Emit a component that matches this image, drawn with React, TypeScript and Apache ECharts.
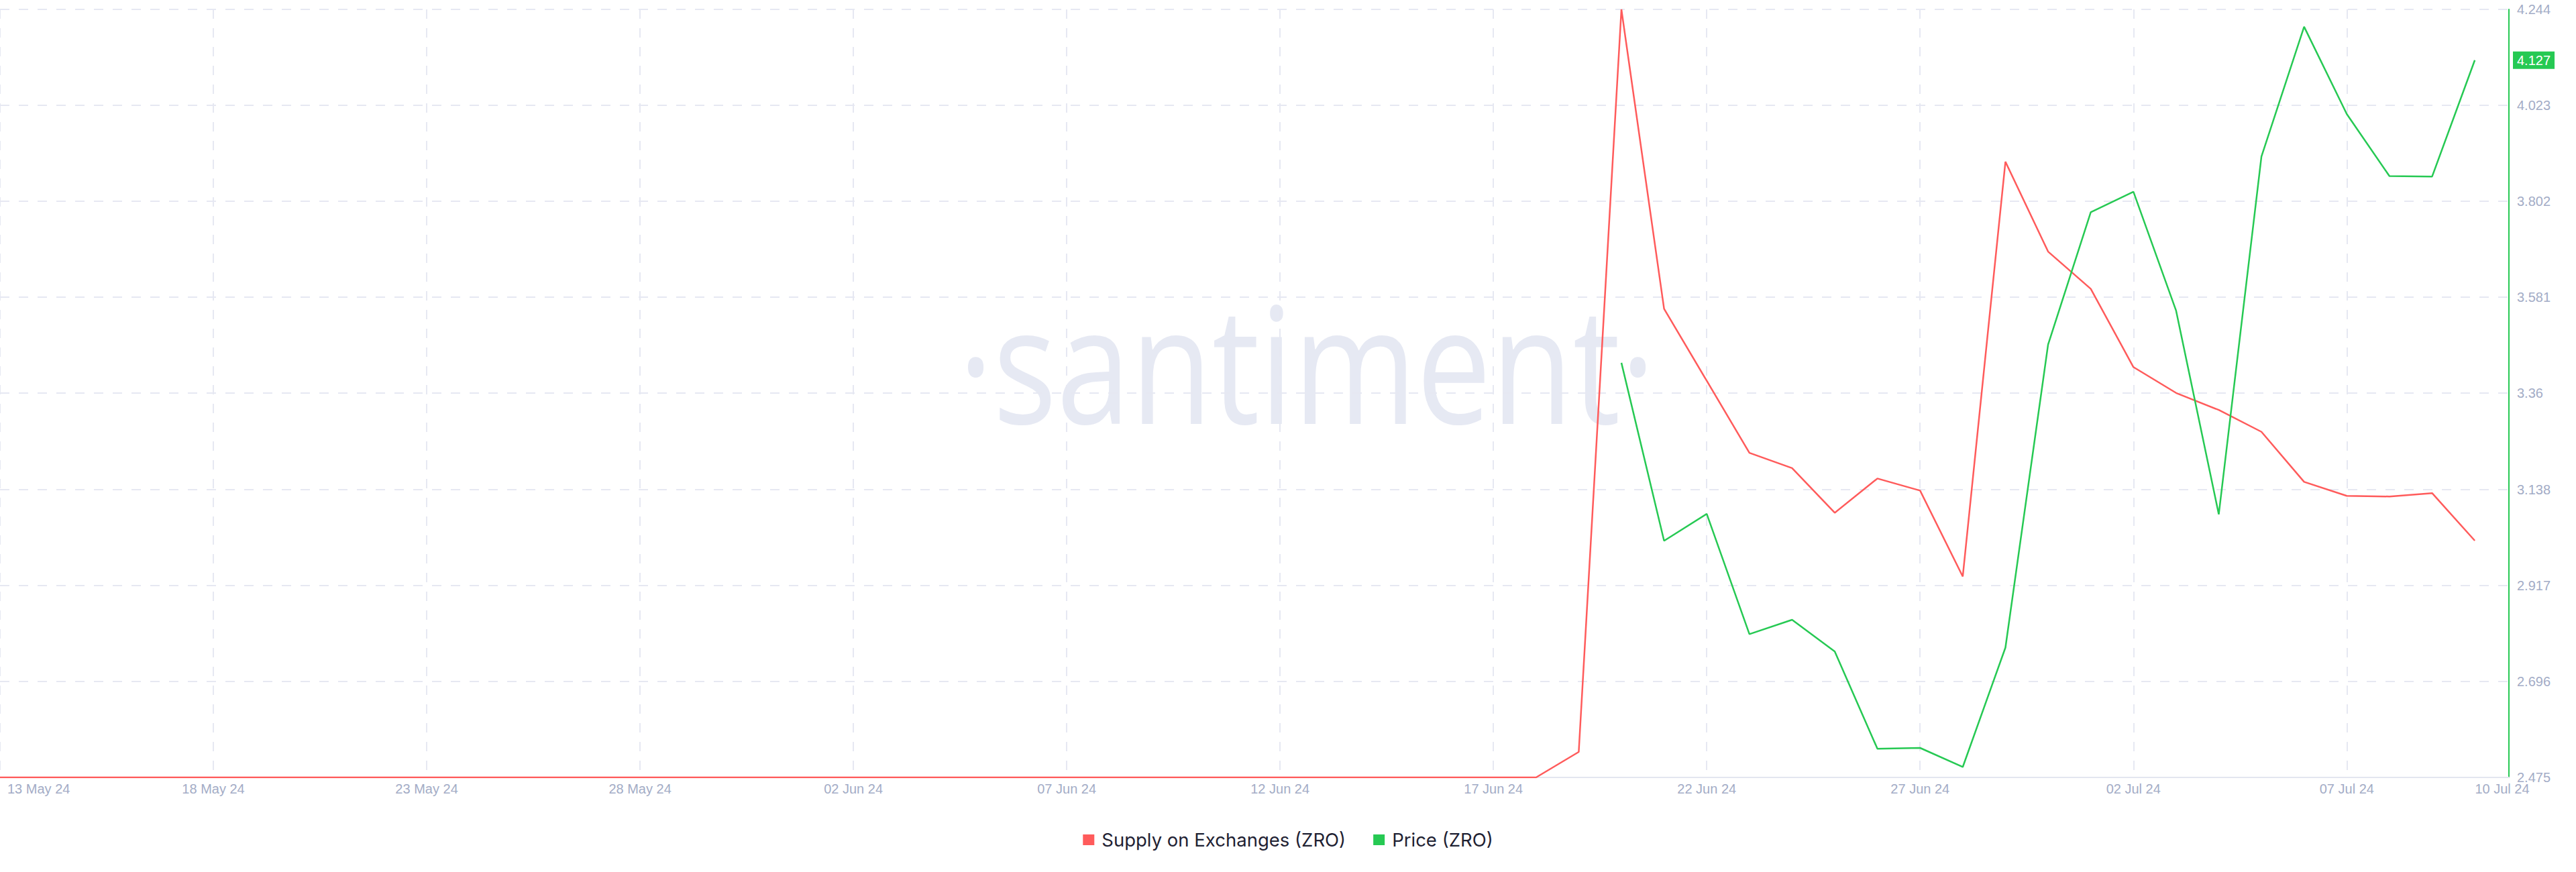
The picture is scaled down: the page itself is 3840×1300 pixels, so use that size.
import React, { useEffect, useRef } from "react";
import * as echarts from "echarts";

// ---------- data ----------
const MONTHS = ["Jan", "Feb", "Mar", "Apr", "May", "Jun", "Jul", "Aug", "Sep", "Oct", "Nov", "Dec"];
const START_DATE = Date.UTC(2024, 4, 13); // 13 May 24
const DAY_COUNT = 59; // 13 May 24 .. 10 Jul 24
const dates: string[] = Array.from({ length: DAY_COUNT }, (_, i) => {
  const d = new Date(START_DATE + i * 86400000);
  return `${String(d.getUTCDate()).padStart(2, "0")} ${MONTHS[d.getUTCMonth()]} ${String(d.getUTCFullYear()).slice(2)}`;
});

// Supply on Exchanges (ZRO), millions (hidden axis) — 13 May .. 10 Jul
const supplyValues: number[] = [
  0, 0, 0, 0, 0, 0, 0, 0, 0, 0, // 13-22 May
  0, 0, 0, 0, 0, 0, 0, 0, 0, 0, // 23 May - 01 Jun
  0, 0, 0, 0, 0, 0, 0, 0, 0, 0, // 02-11 Jun
  0, 0, 0, 0, 0, 0, 0,          // 12-18 Jun
  1.6, 48.2, 29.41, 24.89, 20.37, 19.41, 16.61, 18.76, 18.0, 12.61, 38.64, 33.0, // 19-30 Jun
  30.66, 25.75, 24.13, 23.06, 21.69, 18.55, 17.67, 17.63, 17.84, 14.86, // 01-10 Jul
];

// Price (ZRO), USD — starts 20 Jun 24
const PRICE_START = "20 Jun 24";
const priceValues: number[] = [
  3.43, 3.02, 3.082, 2.805, 2.838, 2.765, 2.541, 2.543, 2.499, 2.774, 3.472, // 20-30 Jun
  3.777, 3.824, 3.55, 3.081, 3.905, 4.204, 4.003, 3.86, 3.859, 4.127, // 01-10 Jul
];

const priceTicks: number[] = [2.475, 2.696, 2.917, 3.138, 3.36, 3.581, 3.802, 4.023, 4.244];

const SERIES_NAMES = ["Supply on Exchanges (ZRO)", "Price (ZRO)"];

// ---------- styles ----------
const RED = "#ff5b5b";
const GREEN = "#26c953";
const GRID_COLOR = "#e6e8f2";
const LABEL_COLOR = "#a3acc6";
const AXIS_FONT = "'Liberation Sans', Arial, sans-serif";
const X_MAX = 58.8;

export default function App() {
  const ref = useRef<HTMLDivElement>(null);

  useEffect(() => {
    if (!ref.current) return;
    const chart = echarts.init(ref.current, undefined, { renderer: "svg" });
    const priceStartIdx = dates.indexOf(PRICE_START);
    const lastPrice = priceValues[priceValues.length - 1];

    const labelStyle = {
      color: LABEL_COLOR,
      fontFamily: AXIS_FONT,
      fontSize: 20,
    };

    chart.setOption({
      animation: false,
      backgroundColor: "#ffffff",
      graphic: [
        {
          type: "text",
          x: 1948,
          y: 538,
          scaleX: 0.82,
          z: -1,
          silent: true,
          style: {
            text: "\u00B7santiment\u00B7",
            font: "242px 'Open Sans'",
            fill: "#e6e9f3",
            align: "center",
            verticalAlign: "middle",
          },
        },
      ],
      legend: {
        data: SERIES_NAMES,
        left: "center",
        top: 1238,
        padding: 0,
        icon: "rect",
        itemWidth: 17,
        itemHeight: 16,
        itemGap: 41,
        textStyle: {
          fontFamily: "Inter, 'Noto Sans', sans-serif",
          fontSize: 27.5,
          color: "#1f2233",
          padding: [0, 0, 0, 6],
        },
      },
      grid: { left: 0, right: 100, top: 14, bottom: 141, containLabel: false },
      xAxis: {
        type: "value",
        min: 0,
        max: X_MAX,
        interval: 5,
        axisLine: { onZero: false, lineStyle: { color: "#e3e6f0", width: 2 } },
        axisTick: { show: false },
        axisLabel: {
          ...labelStyle,
          margin: 7,
          alignMinLabel: "left",
          showMaxLabel: true,
          formatter: (v: number) => {
            const label = dates[Math.min(Math.floor(v + 1e-6), dates.length - 1)] ?? "";
            if (v <= 0) return `{first|${label}}`;
            if (v >= X_MAX - 1e-6) return `{last|${label}}`;
            return label;
          },
          rich: {
            first: { ...labelStyle, padding: [0, 0, 0, 11] },
            last: { ...labelStyle, padding: [0, 20, 0, 0] },
          },
        },
        splitLine: { show: true, lineStyle: { color: GRID_COLOR, width: 2, type: [14, 14] } },
      },
      yAxis: [
        {
          type: "value",
          show: false,
          min: 0,
          max: 48.2,
          splitLine: { show: false },
        },
        {
          type: "value",
          position: "right",
          min: priceTicks[0],
          max: priceTicks[priceTicks.length - 1],
          axisLine: { show: true, lineStyle: { color: GREEN, width: 2 } },
          axisTick: { show: false, customValues: priceTicks },
          axisLabel: {
            ...labelStyle,
            customValues: priceTicks,
            margin: 12,
            formatter: (v: number) => String(v),
          },
          splitLine: { show: true, lineStyle: { color: GRID_COLOR, width: 2, type: [14, 14] } },
        },
        {
          // last-price badge on the price axis
          type: "value",
          position: "right",
          min: priceTicks[0],
          max: priceTicks[priceTicks.length - 1],
          axisLine: { show: false },
          axisTick: { show: false, customValues: [lastPrice] },
          splitLine: { show: false },
          axisLabel: {
            customValues: [lastPrice],
            showMinLabel: true,
            showMaxLabel: true,
            margin: 6,
            color: "#ffffff",
            backgroundColor: GREEN,
            fontFamily: AXIS_FONT,
            fontSize: 20,
            padding: [3, 6, 3, 6],
            formatter: (v: number) => v.toFixed(3),
          },
        },
      ],
      series: [
        {
          name: SERIES_NAMES[0],
          type: "line",
          yAxisIndex: 0,
          showSymbol: false,
          color: RED,
          lineStyle: { color: RED, width: 2.5 },
          data: supplyValues.map((v, i) => [i, v]),
          z: 3,
        },
        {
          name: SERIES_NAMES[1],
          type: "line",
          yAxisIndex: 1,
          showSymbol: false,
          color: GREEN,
          lineStyle: { color: GREEN, width: 2.5 },
          data: priceValues.map((v, i) => [priceStartIdx + i, v]),
          z: 4,
        },
      ],
    });

    return () => chart.dispose();
  }, []);

  return (
    <div
      ref={ref}
      style={{ position: "fixed", left: 0, top: 0, width: 3840, height: 1300, background: "#fff" }}
    />
  );
}
